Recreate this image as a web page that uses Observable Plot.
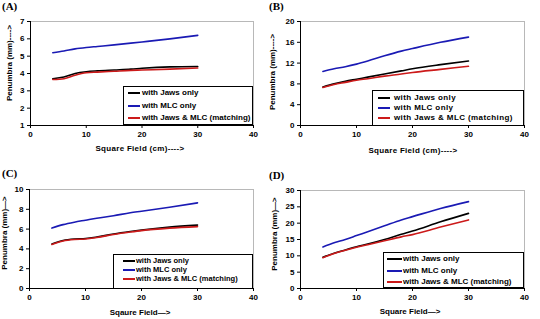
<!DOCTYPE html>
<html>
<head>
<meta charset="utf-8">
<script src="https://cdn.jsdelivr.net/npm/d3@7"></script>
<script src="https://cdn.jsdelivr.net/npm/@observablehq/plot@0.6"></script>
<style>
  html, body { margin: 0; padding: 0; background: #fff; }
  #root { position: relative; width: 540px; height: 319px; overflow: hidden; font-family: "Liberation Sans", Arial, sans-serif; }
  .panel { position: absolute; width: 270px; }
  .panel svg { display: block; }
  .tag { position: absolute; font-family: "Liberation Serif", "Times New Roman", serif; font-weight: bold; font-size: 11px; line-height: 11px; color: #000; }
  .xt { position: absolute; font-weight: bold; font-size: 8px; line-height: 8px; white-space: nowrap; transform: translate(-50%, -50%); color: #000; }
  .yt { position: absolute; font-weight: bold; font-size: 8px; line-height: 8px; white-space: nowrap; transform: translate(-50%, -50%) rotate(-90deg); color: #000; }
  .legend { position: absolute; border: 1px solid #000; background: #fff; box-sizing: border-box; }
  .row { position: absolute; left: 0; font-weight: bold; white-space: nowrap; color: #000; }
  .sw { position: absolute; height: 0; border-top: 2px solid; }
</style>
</head>
<body>
<div id="root"></div>
<script>
// ---- data ----
const fieldSizes = [4, 6, 8, 10, 12, 15, 18, 20, 25, 30];
const seriesNames = ["with Jaws only", "with MLC only", "with Jaws & MLC (matching)"];
const seriesColors = ["#000000", "#1a1ab4", "#cc1a1a"];

const jawsA  = [3.7, 3.8, 4.0, 4.1, 4.15, 4.2, 4.25, 4.3, 4.38, 4.4];
const mlcA   = [5.2, 5.3, 5.42, 5.5, 5.56, 5.65, 5.75, 5.82, 6.0, 6.2];
const matchA = [3.65, 3.7, 3.9, 4.04, 4.08, 4.13, 4.18, 4.2, 4.25, 4.32];

const jawsB  = [7.4, 8.0, 8.5, 8.9, 9.3, 9.9, 10.5, 10.9, 11.7, 12.4];
const mlcB   = [10.4, 10.9, 11.3, 11.8, 12.4, 13.4, 14.3, 14.8, 16.0, 17.0];
const matchB = [7.3, 7.9, 8.3, 8.7, 9.0, 9.5, 9.9, 10.2, 10.8, 11.4];

const jawsC  = [4.5, 4.85, 5.0, 5.05, 5.2, 5.5, 5.75, 5.9, 6.2, 6.4];
const mlcC   = [6.1, 6.45, 6.7, 6.9, 7.1, 7.35, 7.65, 7.8, 8.2, 8.65];
const matchC = [4.45, 4.8, 4.95, 5.0, 5.15, 5.45, 5.7, 5.85, 6.1, 6.25];

const jawsD  = [9.6, 10.8, 11.8, 12.8, 13.6, 15.0, 16.6, 17.6, 20.4, 23.0];
const mlcD   = [12.7, 14.0, 15.0, 16.2, 17.4, 19.2, 21.0, 22.0, 24.5, 26.6];
const matchD = [9.4, 10.7, 11.7, 12.6, 13.4, 14.6, 15.8, 16.5, 18.8, 21.0];

const xTicks = [0, 10, 20, 30, 40];
const yTicksA = [1, 2, 3, 4, 5, 6, 7];
const yTicksB = [0, 4, 8, 12, 16, 20];
const yTicksC = [0, 2, 4, 6, 8, 10];
const yTicksD = [0, 5, 10, 15, 20, 25, 30];

const tags = ["(A)", "(B)", "(C)", "(D)"];
const xTitles = ["Square Field (cm)---->", "Square Field (cm)---->", "Sqaure Field\u2014>", "Square Field\u2014>"];
const yTitles = ["Penumbra (mm)---->", "Penumbra (mm)---->", "Penumbra (mm)\u2014>", "Penumbra (mm)\u2014>"];

// ---- layout ----
const panels = [
  {left: 0,   top: 0,   h: 160, mt: 21, mb: 35, ml: 30, mr: 17, series: [jawsA, mlcA, matchA], yTicks: yTicksA,
   tag: [2, 1], xt: [140, 149], yt: [10, 63],
   legend: {x: 123, y: 86, w: 130, h: 39, rows: [93, 106, 118], swx: 128, sww: 12, tx: 142, fs: 8}},
  {left: 270, top: 0,   h: 160, mt: 21, mb: 35, ml: 30, mr: 16, series: [jawsB, mlcB, matchB], yTicks: yTicksB,
   tag: [-1, 1], xt: [143, 151], yt: [3, 72],
   legend: {x: 102, y: 90, w: 152, h: 36, rows: [98, 108, 118], swx: 108, sww: 12, tx: 124, fs: 8}},
  {left: 0,   top: 160, h: 159, mt: 29, mb: 31, ml: 29, mr: 17, series: [jawsC, mlcC, matchC], yTicks: yTicksC,
   tag: [2, 8], xt: [140, 153], yt: [5, 73],
   legend: {x: 113, y: 94, w: 140, h: 35, rows: [100.5, 109.5, 118.5], swx: 123, sww: 12, tx: 136, fs: 7.5}},
  {left: 270, top: 160, h: 159, mt: 30, mb: 31, ml: 30, mr: 16, series: [jawsD, mlcD, matchD], yTicks: yTicksD,
   tag: [-1, 10], xt: [140, 152], yt: [5, 74],
   legend: {x: 113, y: 92, w: 141, h: 36, rows: [99, 111, 122], swx: 117, sww: 15, tx: 133, fs: 8}}
];

const root = document.getElementById("root");

panels.forEach((p, i) => {
  const data = [];
  p.series.forEach((vals, s) => {
    vals.forEach((v, k) => data.push({x: fieldSizes[k], y: v, s: seriesNames[s]}));
  });
  const ymin = p.yTicks[0], ymax = p.yTicks[p.yTicks.length - 1];
  const chart = Plot.plot({
    width: 270, height: p.h,
    marginTop: p.mt, marginBottom: p.mb, marginLeft: p.ml, marginRight: p.mr,
    style: {fontFamily: "Liberation Sans, Arial, sans-serif", fontSize: "8px", fontWeight: "bold", color: "#000", background: "transparent"},
    x: {domain: [0, 40], ticks: xTicks, label: null},
    y: {domain: [ymin, ymax], ticks: p.yTicks, label: null},
    color: {domain: seriesNames, range: seriesColors},
    marks: [
      Plot.frame({stroke: "#b8b8b8", strokeWidth: 1}),
      Plot.axisX({ticks: xTicks, tickSize: 3, tickPadding: 3, label: null, stroke: "#000", tickFormat: d => String(d)}),
      Plot.axisY({ticks: p.yTicks, tickSize: 3, tickPadding: 3, label: null, stroke: "#000", tickFormat: d => String(d)}),
      Plot.ruleX([0], {stroke: "#000"}),
      Plot.ruleY([ymin], {stroke: "#000"}),
      Plot.line(data, {x: "x", y: "y", z: "s", stroke: "s", strokeWidth: 1.6, curve: "monotone-x"})
    ]
  });
  const div = document.createElement("div");
  div.className = "panel";
  div.style.left = p.left + "px";
  div.style.top = p.top + "px";
  div.style.height = p.h + "px";
  div.appendChild(chart);

  const tag = document.createElement("div");
  tag.className = "tag";
  tag.textContent = tags[i];
  tag.style.left = p.tag[0] + "px";
  tag.style.top = p.tag[1] + "px";
  div.appendChild(tag);

  const xt = document.createElement("div");
  xt.className = "xt";
  xt.textContent = xTitles[i];
  xt.style.left = p.xt[0] + "px";
  xt.style.top = p.xt[1] + "px";
  if (i < 2) xt.style.letterSpacing = "0.3px";
  div.appendChild(xt);

  const yt = document.createElement("div");
  yt.className = "yt";
  yt.textContent = yTitles[i];
  yt.style.left = p.yt[0] + "px";
  yt.style.top = p.yt[1] + "px";
  div.appendChild(yt);

  const L = p.legend;
  const lg = document.createElement("div");
  lg.className = "legend";
  lg.style.left = L.x + "px";
  lg.style.top = L.y + "px";
  lg.style.width = L.w + "px";
  lg.style.height = L.h + "px";
  div.appendChild(lg);
  seriesNames.forEach((name, s) => {
    const sw = document.createElement("div");
    sw.className = "sw";
    sw.style.borderColor = seriesColors[s];
    sw.style.left = L.swx + "px";
    sw.style.width = L.sww + "px";
    sw.style.top = (L.rows[s] - 1) + "px";
    div.appendChild(sw);
    const t = document.createElement("div");
    t.className = "row";
    t.textContent = name;
    t.style.fontSize = L.fs + "px";
    t.style.lineHeight = L.fs + "px";
    t.style.left = L.tx + "px";
    t.style.top = (L.rows[s] - L.fs / 2) + "px";
    if (i === 1) t.style.letterSpacing = "0.4px";
    div.appendChild(t);
  });

  root.appendChild(div);
});
</script>
</body>
</html>
